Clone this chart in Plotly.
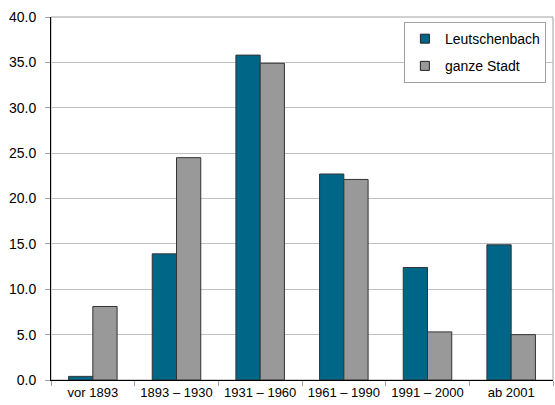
import plotly.graph_objects as go

categories = ["vor 1893", "1893 – 1930", "1931 – 1960", "1961 – 1990", "1991 – 2000", "ab 2001"]
leutschenbach = [0.4, 13.9, 35.8, 22.7, 12.4, 14.9]
ganze_stadt = [8.1, 24.5, 34.9, 22.1, 5.3, 5.0]
y_ticks = [0, 5, 10, 15, 20, 25, 30, 35, 40]
y_tick_labels = ["0.0", "5.0", "10.0", "15.0", "20.0", "25.0", "30.0", "35.0", "40.0"]
series_names = ["Leutschenbach", "ganze Stadt"]
series_colors = ["#006688", "#999999"]

fig = go.Figure()
for name, vals, col in zip(series_names, [leutschenbach, ganze_stadt], series_colors):
    fig.add_trace(go.Bar(name=name, x=categories, y=vals, showlegend=False,
                         marker=dict(color=col, line=dict(color="#333333", width=1))))
for i, (name, col) in enumerate(zip(series_names, series_colors)):
    fig.add_trace(go.Scatter(name=name, x=[None], y=[None], mode="markers", legendgroup=str(i),
                             marker=dict(symbol="square", size=9, color=col,
                                         line=dict(color="#222222", width=1))))

fig.add_shape(type="rect", xref="paper", yref="paper", x0=0, y0=0, x1=1, y1=1,
              line=dict(color="#a0a0a0", width=1), layer="below")

fig.update_layout(
    width=555, height=405,
    margin=dict(l=51, r=2, t=17, b=25, autoexpand=False),
    paper_bgcolor="white", plot_bgcolor="white",
    font=dict(family="Liberation Sans, Arial, sans-serif", size=13, color="black"),
    barmode="group", bargap=0.42, bargroupgap=0,
    legend=dict(x=0.703, y=0.986, xanchor="left", yanchor="top",
                bgcolor="white", bordercolor="#a0a0a0", borderwidth=1,
                font=dict(size=14), traceorder="grouped", tracegroupgap=6, itemwidth=30),
    showlegend=True,
)
fig.update_xaxes(showline=True, linecolor="black", linewidth=1,
                 ticks="outside", tickson="boundaries", ticklen=5, tickcolor="#a0a0a0",
                 showgrid=False, tickfont=dict(size=13))
fig.update_yaxes(range=[0, 40], tickvals=y_ticks, ticktext=y_tick_labels,
                 showline=True, linecolor="black", linewidth=1,
                 ticks="outside", ticklen=5, tickcolor="#a0a0a0",
                 showgrid=True, gridcolor="#c0c0c0", gridwidth=1,
                 zeroline=False, tickfont=dict(size=14), ticklabelstandoff=6)

fig.write_html("out.html", config={"displayModeBar": False},
               post_script="document.body.style.margin='0';document.body.style.padding='0';")
